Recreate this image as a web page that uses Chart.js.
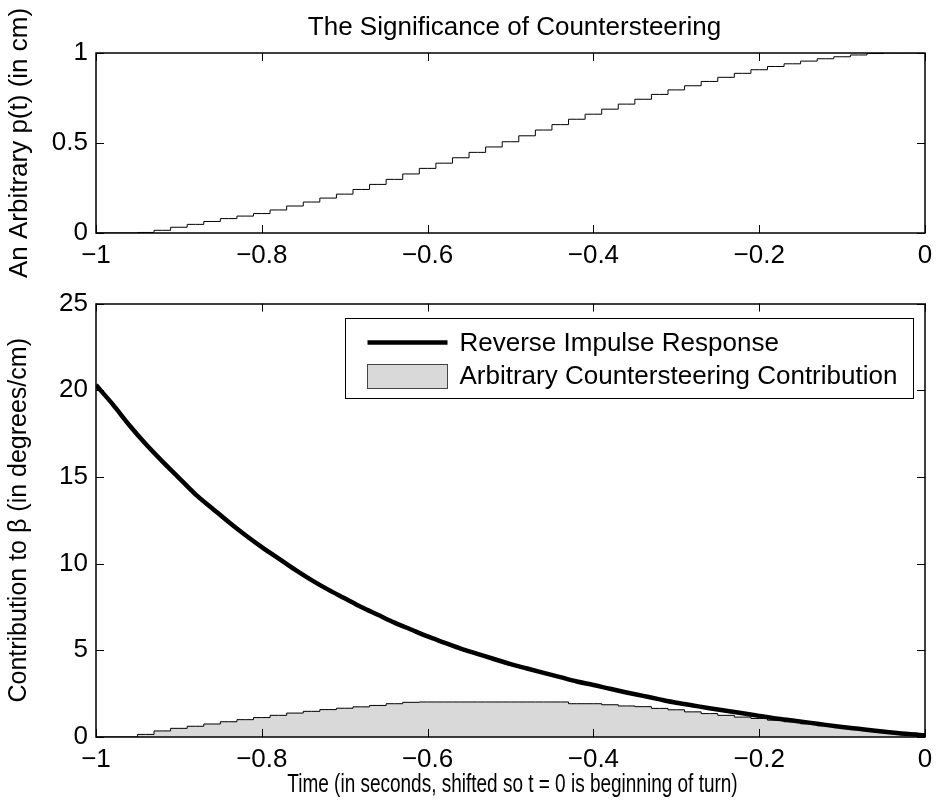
<!DOCTYPE html>
<html>
<head>
<meta charset="utf-8">
<script src="https://cdn.jsdelivr.net/npm/chart.js@4.4.0/dist/chart.umd.min.js"></script>
<style>
  html, body { margin: 0; padding: 0; background: #fff; }
  #wrap { position: relative; width: 937px; height: 811px; }
  #topBox { position: absolute; left: 0; top: 0; width: 937px; height: 280px; }
  #bottomBox { position: absolute; left: 0; top: 280px; width: 937px; height: 531px; }
</style>
</head>
<body>
<div id="wrap">
  <div id="topBox"><canvas id="pChart"></canvas></div>
  <div id="bottomBox"><canvas id="betaChart"></canvas></div>
</div>
<script>
// time axis (s), read every 0.02 s
const times = [-1, -0.98, -0.96, -0.94, -0.92, -0.9, -0.88, -0.86, -0.84, -0.82,
  -0.8, -0.78, -0.76, -0.74, -0.72, -0.7, -0.68, -0.66, -0.64, -0.62,
  -0.6, -0.58, -0.56, -0.54, -0.52, -0.5, -0.48, -0.46, -0.44, -0.42,
  -0.4, -0.38, -0.36, -0.34, -0.32, -0.3, -0.28, -0.26, -0.24, -0.22,
  -0.2, -0.18, -0.16, -0.14, -0.12, -0.1, -0.08, -0.06, -0.04, -0.02, 0];

// p(t) in cm
const positionCm = [0, 0, 0, 0.003, 0.015, 0.032, 0.048, 0.064, 0.08, 0.094,
  0.108, 0.128, 0.15, 0.172, 0.194, 0.216, 0.242, 0.27, 0.298, 0.328,
  0.359, 0.388, 0.418, 0.448, 0.478, 0.507, 0.54, 0.572, 0.602, 0.632,
  0.66, 0.688, 0.716, 0.743, 0.77, 0.795, 0.818, 0.842, 0.865, 0.887,
  0.907, 0.925, 0.94, 0.955, 0.968, 0.979, 0.989, 0.997, 1, 1, 1];

// reverse impulse response (degrees/cm)
const impulseResponse = [20.3, 19.2, 18.0, 16.9, 15.9, 14.95, 14.0, 13.2, 12.4, 11.65,
  10.95, 10.3, 9.65, 9.05, 8.5, 8.0, 7.5, 7.05, 6.6, 6.2,
  5.8, 5.45, 5.1, 4.8, 4.5, 4.2, 3.95, 3.7, 3.45, 3.2,
  3.0, 2.78, 2.57, 2.37, 2.17, 1.98, 1.82, 1.66, 1.51, 1.37,
  1.22, 1.07, 0.95, 0.83, 0.7, 0.58, 0.47, 0.36, 0.26, 0.17, 0.1];

// arbitrary countersteering contribution
const contribution = [0, 0, 0, 0.15, 0.35, 0.5, 0.62, 0.75, 0.88, 1.0,
  1.12, 1.25, 1.38, 1.48, 1.58, 1.66, 1.74, 1.82, 1.92, 2.0,
  2.02, 2.02, 2.02, 2.02, 2.02, 2.02, 2.02, 2.02, 2.02, 1.92,
  1.92, 1.86, 1.79, 1.75, 1.65, 1.57, 1.45, 1.35, 1.25, 1.15,
  1.07, 0.97, 0.88, 0.76, 0.65, 0.54, 0.43, 0.33, 0.23, 0.13, 0.07];

const timeTicks = [-1, -0.8, -0.6, -0.4, -0.2, 0];
const pTicks = [0, 0.5, 1];
const betaTicks = [0, 5, 10, 15, 20, 25];

const FONT = 'Liberation Sans, Arial, Helvetica, sans-serif';
const SIZE = 26;

function pts(ys) {
  return times.map((t, i) => ({ x: t, y: ys[i] }));
}
function fmt(v) {
  const s = String(Number(v.toFixed(2)));
  return s.replace('-', '\u2212');
}

// box around the axes with inward ticks, like matlab
const frameTicks = {
  id: 'frameTicks',
  afterDatasetsDraw(chart) {
    const { ctx, chartArea: a, scales } = chart;
    ctx.save();
    ctx.strokeStyle = '#000';
    ctx.lineWidth = 1;
    const L = 8;
    ctx.beginPath();
    scales.x.ticks.forEach(tk => {
      const px = Math.round(scales.x.getPixelForValue(tk.value)) + 0.5;
      ctx.moveTo(px, a.bottom); ctx.lineTo(px, a.bottom - L);
      ctx.moveTo(px, a.top); ctx.lineTo(px, a.top + L);
    });
    scales.y.ticks.forEach(tk => {
      const py = Math.round(scales.y.getPixelForValue(tk.value)) + 0.5;
      ctx.moveTo(a.left, py); ctx.lineTo(a.left + L, py);
      ctx.moveTo(a.right, py); ctx.lineTo(a.right - L, py);
    });
    ctx.stroke();
    ctx.lineWidth = 1.5;
    ctx.strokeRect(Math.round(a.left), Math.round(a.top),
      Math.round(a.right - a.left), Math.round(a.bottom - a.top));
    ctx.restore();
  }
};

// text centred over the axes (title above, condensed label below)
const axesText = {
  id: 'axesText',
  afterDraw(chart, args, opts) {
    const { ctx, chartArea: a } = chart;
    ctx.save();
    ctx.fillStyle = '#000';
    ctx.font = SIZE + 'px ' + FONT;
    ctx.textAlign = 'center';
    ctx.textBaseline = 'middle';
    (opts.items || []).forEach(it => {
      ctx.save();
      ctx.translate((a.left + a.right) / 2 + (it.dx || 0), it.y);
      ctx.scale(it.sx || 1, 1);
      ctx.fillText(it.text, 0, 0);
      ctx.restore();
    });
    ctx.restore();
  }
};

// legend box drawn inside the axes (top right)
const legendBox = {
  id: 'legendBox',
  afterDraw(chart) {
    const { ctx, chartArea: a } = chart;
    const ds = chart.data.datasets;
    const w = 568, h = 80;
    const x0 = Math.round(a.right - 12 - w) + 0.5, y0 = Math.round(a.top + 14) + 0.5;
    ctx.save();
    ctx.fillStyle = '#fff';
    ctx.fillRect(x0, y0, w, h);
    ctx.strokeStyle = '#000';
    ctx.lineWidth = 1;
    ctx.strokeRect(x0, y0, w, h);
    // line sample
    ctx.lineWidth = ds[0].borderWidth;
    ctx.beginPath();
    ctx.moveTo(x0 + 22, y0 + 24);
    ctx.lineTo(x0 + 102, y0 + 24);
    ctx.stroke();
    // patch sample
    ctx.fillStyle = ds[1].backgroundColor;
    ctx.fillRect(x0 + 22, y0 + 46, 80, 24);
    ctx.lineWidth = 1;
    ctx.strokeStyle = '#444';
    ctx.strokeRect(x0 + 22, y0 + 46, 80, 24);
    ctx.fillStyle = '#000';
    ctx.font = SIZE + 'px ' + FONT;
    ctx.textBaseline = 'middle';
    ctx.fillText(ds[0].label, x0 + 114, y0 + 25);
    ctx.fillText(ds[1].label, x0 + 114, y0 + 58);
    ctx.restore();
  }
};

Chart.defaults.font.family = FONT;
Chart.defaults.font.size = SIZE;
Chart.defaults.color = '#000';

function xAxis(height, pad) {
  return {
    type: 'linear',
    min: -1, max: 0,
    afterBuildTicks: s => { s.ticks = timeTicks.map(v => ({ value: v })); },
    afterFit: s => { s.height = height; s.paddingLeft = 0; s.paddingRight = 0; },
    grid: { display: false, drawTicks: false },
    border: { display: false },
    ticks: { padding: pad, maxRotation: 0, autoSkip: false, callback: v => fmt(v) }
  };
}

function yAxis(min, max, tickList, titleText, titleSize) {
  return {
    type: 'linear',
    min: min, max: max,
    afterBuildTicks: s => { s.ticks = tickList.map(v => ({ value: v })); },
    afterFit: s => { s.width = 96; },
    grid: { display: false, drawTicks: false },
    border: { display: false },
    ticks: { padding: 8, autoSkip: false, callback: v => fmt(v) },
    title: { display: true, text: titleText, font: { size: titleSize }, padding: { top: 4, bottom: 0 } }
  };
}

new Chart(document.getElementById('pChart'), {
  type: 'line',
  data: {
    datasets: [{
      label: 'p(t)',
      data: pts(positionCm),
      borderColor: '#000',
      borderWidth: 1,
      pointRadius: 0,
      stepped: 'middle',
      fill: false
    }]
  },
  options: {
    responsive: true,
    maintainAspectRatio: false,
    animation: false,
    layout: { padding: { left: 0, right: 12, top: 53, bottom: 0 } },
    scales: {
      x: xAxis(47, 7),
      y: yAxis(0, 1, pTicks, 'An Arbitrary p(t) (in cm)', 26)
    },
    plugins: {
      legend: { display: false },
      tooltip: { enabled: false },
      axesText: { items: [{ text: 'The Significance of Countersteering', y: 28, dx: 4 }] }
    }
  },
  plugins: [frameTicks, axesText]
});

new Chart(document.getElementById('betaChart'), {
  type: 'line',
  data: {
    datasets: [{
      label: 'Reverse Impulse Response',
      data: pts(impulseResponse),
      borderColor: '#000',
      borderWidth: 4.5,
      pointRadius: 0,
      cubicInterpolationMode: 'monotone',
      fill: false
    }, {
      label: 'Arbitrary Countersteering Contribution',
      data: pts(contribution),
      borderColor: '#000',
      borderWidth: 1,
      backgroundColor: '#d9d9d9',
      pointRadius: 0,
      stepped: 'middle',
      fill: 'origin'
    }]
  },
  options: {
    responsive: true,
    maintainAspectRatio: false,
    animation: false,
    layout: { padding: { left: 0, right: 12, top: 23, bottom: 0 } },
    scales: {
      x: xAxis(74, 7),
      y: yAxis(0, 25, betaTicks, 'Contribution to \u03b2 (in degrees/cm)', 25)
    },
    plugins: {
      legend: { display: false },
      tooltip: { enabled: false },
      axesText: { items: [{ text: 'Time (in seconds, shifted so t = 0 is beginning of turn)', y: 505, dx: 2, sx: 0.73 }] }
    }
  },
  plugins: [frameTicks, legendBox, axesText]
});
</script>
</body>
</html>
